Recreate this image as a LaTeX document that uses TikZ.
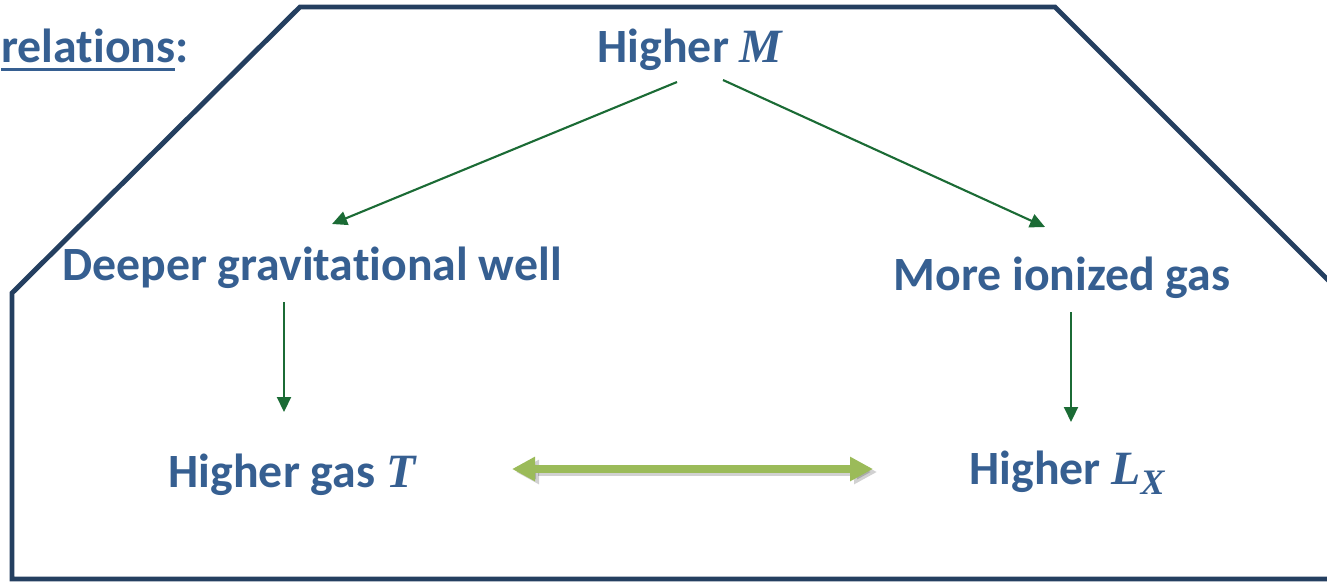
\documentclass[tikz,border=0pt]{standalone}
\usepackage{fontspec}
\setmainfont{Carlito}[Ligatures=NoCommon]
\newfontfamily\varfont{Liberation Serif}
\usetikzlibrary{arrows.meta, calc, positioning}
\definecolor{SlideNavy}{HTML}{243F60}
\definecolor{SlideBlue}{HTML}{365F91}
\definecolor{SlideGreen}{HTML}{1B6B35}
\definecolor{SlideLime}{HTML}{9BBB59}
% bold italic variable, underline with a heavier rule
\newcommand{\mv}[1]{{\varfont\bfseries\itshape #1}}
\newcommand{\lowsub}[1]{\raisebox{-0.22em}{\scalebox{0.75}{#1}}}
\newcommand{\ulbold}[1]{\setbox0\hbox{#1}\rlap{\raisebox{-0.19em}{\rule{\wd0}{0.065em}}}\box0}

\begin{document}
\begin{tikzpicture}[x=0.02cm, y=-0.02cm,
      lbl/.style={text=SlideBlue, font=\fontsize{27.2}{32}\selectfont\bfseries, inner sep=0pt, anchor=base},
      link/.style={SlideGreen, line width=1.2pt, -{Triangle[length=0.3cm, width=0.28cm]}},
      both/.style={line width=5pt, {Triangle[length=0.46cm, width=0.46cm]}-{Triangle[length=0.46cm, width=0.46cm]}}]
   \useasboundingbox (0,0) rectangle (1327,582);
   \clip (0,0) rectangle (1327,582);
   % Frame
   \draw[SlideNavy, line width=2.8pt, line join=miter]
      (1345,579) -- (12,579) -- (12,293) -- (300,7) -- (1055,7) -- (1345,297);
   % Heading
   \node[lbl, anchor=base east] (title) at (189,62) {\ulbold{relations}:};
   % Labels
   \node[lbl] (highM) at (690,62) {Higher \mv{M}};
   \node[lbl] (deeper) at (312,280) {Deeper gravitational well};
   \node[lbl] (ionized) at (1062,290) {More ionized gas};
   \node[lbl] (gasT) at (292,487) {Higher gas \mv{T}};
   \node[lbl] (highLX) at (1067,484) {Higher \mv{L\lowsub{X}}};
   % Causal arrows
   \draw[link] ($(highM.base)+(-13,20)$) -- ($(deeper.base)+(20,-56)$);
   \draw[link] ($(highM.base)+(33,18)$) -- ($(ionized.base)+(-17,-63)$);
   \draw[link] ($(deeper.base)+(-28,22)$) -- ($(gasT.base)+(-8,-75)$);
   \draw[link] ($(ionized.base)+(9,22)$) -- ($(highLX.base)+(4,-62)$);
   % Correlation: T <-> L_X (with soft shadow)
   \draw[both, black, opacity=0.18] ($(gasT.base)+(224,-15)$) -- ($(highLX.base)+(-190,-12)$);
   \draw[both, SlideLime] ($(gasT.base)+(220,-18)$) -- ($(highLX.base)+(-194,-15)$);
\end{tikzpicture}
\end{document}
